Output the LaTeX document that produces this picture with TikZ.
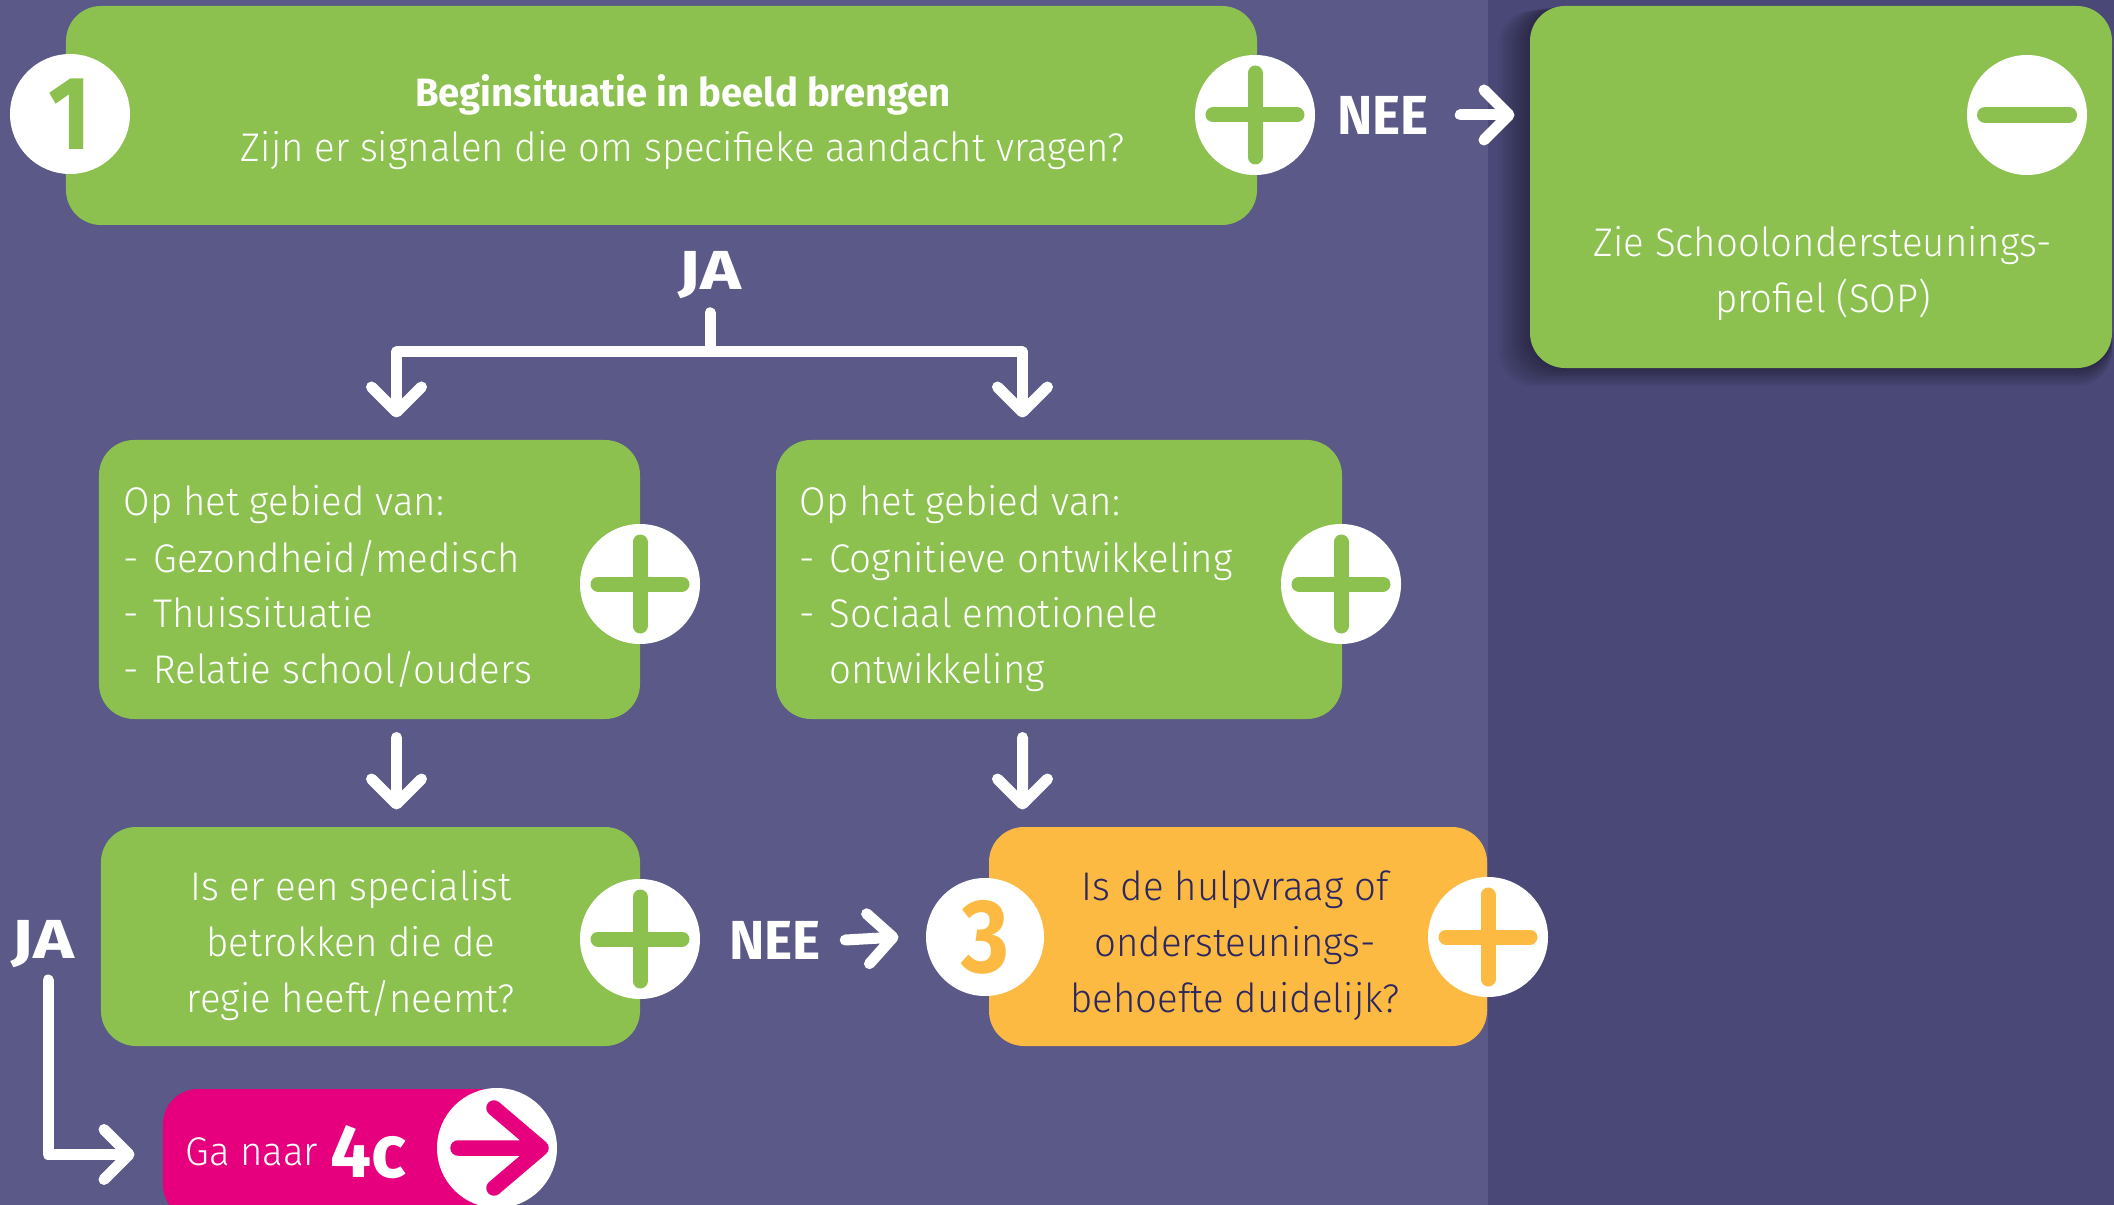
\documentclass[tikz,border=0pt]{standalone}
\usepackage{fontspec}
\IfFontExistsTF{Fira Sans Light}{\setmainfont{Fira Sans Light}[FakeStretch=0.96]}{\setmainfont{Fira Sans}[FakeStretch=0.96]}
\newfontfamily\bfam{Fira Sans}[FakeStretch=0.97]
\usetikzlibrary{arrows.meta,calc}
\definecolor{bgL}{HTML}{5A5987}
\definecolor{bgR}{HTML}{4A4877}
\definecolor{lgreen}{HTML}{8CC14F}
\definecolor{orng}{HTML}{FDBA42}
\definecolor{mgnt}{HTML}{E6007E}
\definecolor{dtext}{HTML}{2B2760}
\newcommand\fbody{\fontsize{16pt}{19pt}\selectfont}
\newcommand\fhead{\bfam\bfseries\fontsize{15.8pt}{19pt}\selectfont}
\newcommand\flabel{\bfam\bfseries\fontsize{22pt}{25pt}\selectfont}
\newcommand\fnum{\bfam\bfseries\fontsize{38pt}{40pt}\selectfont}
\newcommand\fbig{\bfam\bfseries\fontsize{30pt}{32pt}\selectfont}
\newcommand\plussign[2]{\draw[#2, line width=6pt, line cap=round] ($(#1)+(-42,0)$) -- ($(#1)+(42,0)$) ($(#1)+(0,-42)$) -- ($(#1)+(0,42)$);}
\begin{document}
\begin{tikzpicture}[x=0.4pt,y=-0.4pt,
  box/.style={rectangle, rounded corners=14pt, fill=lgreen, draw=none, inner sep=0pt},
  wcirc/.style={circle, fill=white, draw=none, minimum size=48pt, inner sep=0pt},
  txt/.style={text=white, font=\fbody, inner sep=0pt},
  head/.style={text=white, font=\fhead, inner sep=0pt},
  lbl/.style={text=white, font=\flabel, inner sep=0pt},
  conn/.style={draw=white, line width=4.4pt, line cap=round, line join=round, -{Straight Barb[length=10pt,width=20pt,round]}}]
\useasboundingbox (0,0) rectangle (2114,1205);
\begin{scope}
\clip (0,0) rectangle (2114,1205);
\fill[bgL] (0,0) rectangle (1488,1205);
\fill[bgR] (1488,0) rectangle (2114,1205);
% shadow of SOP box
\foreach \i in {1,...,9} \fill[black, opacity=0.045, rounded corners=14pt] (1530-3.5*\i,6+0.5*\i) rectangle (2112,368+2*\i);
% top box
\node[box, minimum width=476.4pt, minimum height=87.6pt] (top) at (661.5,115.5) {};
\node[wcirc, text=lgreen, font=\fnum] (c1) at (70,114) {\scalebox{1}[1.1]{1}};
\node[wcirc] (p1) at (1255,115) {};
\plussign{p1}{lgreen}
\node[head, anchor=base] (h1) at (683,107) {Beginsituatie in beeld brengen};
\node[txt, anchor=base] (h2) at (683,162) {Zijn er signalen die om specifieke aandacht vragen?};
\node[lbl] (nee1) at (1383,115) {NEE};
% SOP box
\node[box, minimum width=232.8pt, minimum height=144.8pt] (sop) at (1821,187) {};
\node[wcirc] (m1) at (2027,115) {};
\draw[lgreen, line width=6.4pt, line cap=round] ($(m1)+(-42,0)$) -- ($(m1)+(42,0)$);
\node[txt, anchor=base] (s1) at (1823,257) {Zie Schoolondersteunings-};
\node[txt, anchor=base] (s2) at (1823,313) {profiel (SOP)};
% JA label
\node[lbl, anchor=base] (ja1) at (710,290) {\scalebox{1.3}[1]{JA}};
% box A
\node[box, minimum width=216.4pt, minimum height=111.6pt] (boxA) at (369.5,579.5) {};
\node[wcirc] (pA) at (640,584) {};
\plussign{pA}{lgreen}
\node[txt, anchor=base west] (a1) at (123,515) {Op het gebied van:};
\node[txt, anchor=base west] (a2) at (123,572) {\makebox[12pt][l]{-}Gezondheid/medisch};
\node[txt, anchor=base west] (a3) at (123,627) {\makebox[12pt][l]{-}Thuissituatie};
\node[txt, anchor=base west] (a4) at (123,683) {\makebox[12pt][l]{-}Relatie school/ouders};
% box B
\node[box, minimum width=226.4pt, minimum height=111.6pt] (boxB) at (1059,579.5) {};
\node[wcirc] (pB) at (1341,584) {};
\plussign{pB}{lgreen}
\node[txt, anchor=base west] (b1) at (799,515) {Op het gebied van:};
\node[txt, anchor=base west] (b2) at (799,572) {\makebox[12pt][l]{-}Cognitieve ontwikkeling};
\node[txt, anchor=base west] (b3) at (799,627) {\makebox[12pt][l]{-}Sociaal emotionele};
\node[txt, anchor=base west] (b4) at (829,683) {ontwikkeling};
% box C
\node[box, minimum width=215.6pt, minimum height=87.6pt] (boxC) at (370.5,936.5) {};
\node[wcirc] (pC) at (640,939) {};
\plussign{pC}{lgreen}
\node[txt, anchor=base] (c1a) at (351,900) {Is er een specialist};
\node[txt, anchor=base] (c1b) at (351,956) {betrokken die de};
\node[txt, anchor=base] (c1c) at (351,1012) {regie heeft/neemt?};
\node[lbl] (nee2) at (775,940) {NEE};
% box D
\node[box, fill=orng, minimum width=199.2pt, minimum height=87.6pt] (boxD) at (1238,936.5) {};
\node[wcirc, minimum size=47.2pt, text=orng, font=\fnum] (c3) at (985,937) {\scalebox{1}[1.1]{3}};
\node[wcirc] (pD) at (1488,937) {};
\plussign{pD}{orng}
\node[txt, text=dtext, anchor=base] (d1) at (1235,900) {Is de hulpvraag of};
\node[txt, text=dtext, anchor=base] (d2) at (1235,956) {ondersteunings-};
\node[txt, text=dtext, anchor=base] (d3) at (1235,1012) {behoefte duidelijk?};
% magenta box
\node[box, fill=mgnt, minimum width=142.8pt, minimum height=52.4pt] (mbox) at (341.5,1154.5) {};
\node[txt, anchor=base west] (ga) at (185,1165) {Ga naar};
\node[txt, font=\fbig, anchor=base west] (g4c) at (330,1177) {4c};
\node[wcirc] (marr) at (497,1148) {};
\draw[mgnt, line width=6.2pt, line cap=round, line join=round] ($(marr)+(-39,0)$) -- ($(marr)+(44,0)$) ($(marr)+(-3,-40)$) -- ($(marr)+(44,0)$) -- ($(marr)+(-3,40)$);
\node[lbl, anchor=base] (ja2) at (43,958) {\scalebox{1.3}[1]{JA}};
% connectors
\draw[conn] (nee1.east) ++(31,0) -- ($(nee1.east -| sop.west)+(-15,0)$);
\draw[conn] ($(ja1.base)+(0,23)$) -- ++(0,39) -| ($(boxA.north west)+(298,-22)$);
\draw[conn] ($(ja1.base)+(0,23)$) -- ++(0,39) -| ($(boxB.north west)+(247,-22)$);
\draw[conn] ($(boxA.south west)+(298,18)$) -- ($(boxC.north west)+(296,-17)$);
\draw[conn] ($(boxB.south west)+(247,18)$) -- ($(boxD.north west)+(34,-17)$);
\draw[conn] (nee2.east) ++(24,0) -- ($(c3.west)+(-27,0)$);
\draw[conn] ($(ja2.base)+(5,22)$) |- ($(mbox.west)+(-28,0)$);
\end{scope}
\end{tikzpicture}
\end{document}
